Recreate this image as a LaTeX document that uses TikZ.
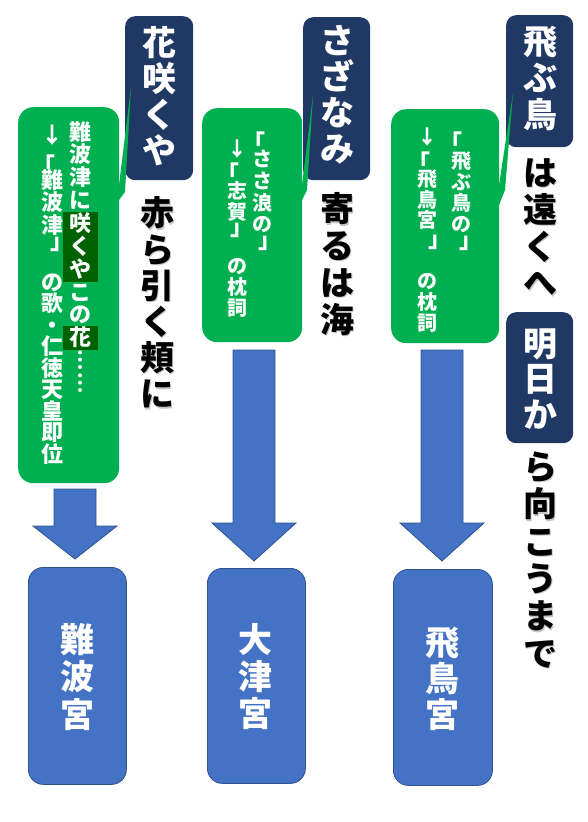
\documentclass[tikz,border=0pt]{standalone}
\usepackage{fontspec}
\newfontfamily\jpfont{Noto Sans CJK JP}
\definecolor{navy}{HTML}{203864}
\definecolor{callgreen}{HTML}{00B050}
\definecolor{markgreen}{HTML}{006100}
\definecolor{palblue}{HTML}{4472C4}
\definecolor{paledge}{HTML}{2F528F}
\newcommand{\tate}[6][]{%
  \foreach \ch [count=\k] in {#6}
    \node[tatechar,#1] (#2-\k) at (#3,{#4+(\k-1)*#5}) {\ch};}
\newcommand{\blockdown}[3]{%
  \draw[blockarrow] (#1) +(-21,0) -- +(21,0) -- +(21,#2) -- +(42,#2)
    -- +(0,#3) -- +(-42,#2) -- +(-21,#2) -- cycle;}
\tikzset{navybox/.style={fill=navy, rounded corners=10pt, anchor=north west, inner sep=0pt},
  callbox/.style={fill=callgreen, rounded corners=15pt, anchor=north west, inner sep=0pt},
  palacebox/.style={fill=palblue, draw=paledge, line width=0.8pt, rounded corners=15pt, anchor=north west, inner sep=0pt},
  blockarrow/.style={fill=palblue, draw=paledge, line width=0.8pt},
  tatechar/.style={anchor=base, inner sep=0pt},
  bigw/.style={text=white, font=\jpfont\bfseries\fontsize{34}{34}\selectfont},
  bigk/.style={text=black, font=\jpfont\bfseries\fontsize{34}{34}\selectfont},
  bigs/.style={text=gray!45, font=\jpfont\bfseries\fontsize{34}{34}\selectfont},
  notew/.style={text=white, font=\jpfont\bfseries\fontsize{20}{20}\selectfont},
  notewl/.style={text=white, font=\jpfont\bfseries\fontsize{22}{22}\selectfont},
  bracket/.style={anchor=center, inner sep=0pt, text=white, font=\jpfont\bfseries\fontsize{23}{23}\selectfont},
  openbr/.style={bracket, xshift=-5.5pt},
  closebr/.style={bracket, xshift=5.5pt}}

\begin{document}
\begin{tikzpicture}[x=1pt, y=-1pt]
  \useasboundingbox (0,0) rectangle (588,822);
  \node[callbox, minimum width=101pt, minimum height=376pt] (naniwanote) at (18,107) {};
  \node[callbox, minimum width=100pt, minimum height=234pt] (sazanote) at (202,108) {};
  \node[callbox, minimum width=108pt, minimum height=234pt] (tobunote) at (391,109) {};
  \node[navybox, minimum width=68pt, minimum height=164pt] (hana) at (125,16) {};
  \node[navybox, minimum width=67pt, minimum height=163pt] (saza) at (303,17) {};
  \node[navybox, minimum width=67pt, minimum height=132pt] (tobu) at (506,15) {};
  \node[navybox, minimum width=67pt, minimum height=131pt] (asu) at (506,312) {};
  \fill[callgreen] (131,87) -- (125,192) -- (119,200) -- (119,185) -- cycle;
  \fill[callgreen] (313,95) -- (307,190) -- (302,200) -- (302,185) -- cycle;
  \fill[callgreen] (513,93) -- (505,190) -- (499,205) -- (499,185) -- cycle;
  \fill[markgreen] (63,212) rectangle (98,282);
  \fill[markgreen] (63,326) rectangle (98,350);

  \tate[notewl]{n1r}{80}{140.1}{22.85}{難,波,津,に,咲,く,や,こ,の,花,︙,︙}
  \tate[notewl]{n1a}{52}{143.4}{22.5}{↓}
  \tate[notewl]{n1c}{52}{188.4}{22.5}{難,波,津}
  \tate[notewl]{n1b}{52}{290.1}{21.5}{の,歌,・,仁,徳,天,皇,即,位}
  \node[openbr] (n1open) at (49,165) {「};
  \node[closebr] (n1close) at (56,244) {」};

  \tate[notew]{n2r}{262}{166.8}{21.6}{さ,さ,浪,の}
  \node[openbr] (n2ropen) at (259,142) {「};
  \node[closebr] (n2rclose) at (264,243) {」};
  \tate[notew]{n2a}{237}{156.6}{21}{↓}
  \tate[notew]{n2c}{237}{198.6}{21}{志,賀}
  \node[openbr] (n2open) at (233,173) {「};
  \node[closebr] (n2close) at (236,230) {」};
  \tate[notew]{n2b}{237}{273.4}{20.9}{の,枕,詞}

  \tate[notew]{n3r}{461}{168.6}{21}{飛,ぶ,鳥,の}
  \node[openbr] (n3ropen) at (456,142) {「};
  \node[closebr] (n3rclose) at (465,243) {」};
  \tate[notew]{n3a}{427}{144.6}{20.8}{↓}
  \tate[notew]{n3c}{427}{186.2}{20.8}{飛,鳥,宮}
  \node[openbr] (n3open) at (424,162) {「};
  \node[closebr] (n3close) at (434,242) {」};
  \tate[notew]{n3b}{427}{288.6}{21}{の,枕,詞}

  \tate[bigw]{hanatxt}{159}{55.4}{36.1}{花,咲,く,や}
  \tate[bigw]{sazatxt}{337}{53.9}{36}{さ,ざ,な,み}
  \tate[bigw]{tobutxt}{540}{54.6}{36.2}{飛,ぶ,鳥}
  \tate[bigw]{asutxt}{540}{356.2}{35.4}{明,日,か}

  \tate[bigs]{s1}{158.2}{227.1}{36.2}{赤,ら,引,く,頬,に}
  \tate[bigk]{k1}{157}{225.9}{36.2}{赤,ら,引,く,頬,に}
  \tate[bigs]{s2}{338.2}{223.1}{36.7}{寄,る,は,海}
  \tate[bigk]{k2}{337}{221.9}{36.7}{寄,る,は,海}
  \tate[bigs]{s3}{541.2}{186.6}{36.8}{は,遠,く,へ}
  \tate[bigk]{k3}{540}{185.4}{36.8}{は,遠,く,へ}
  \tate[bigs]{s4}{541.2}{480.8}{37.3}{ら,向,こ,う,ま,で}
  \tate[bigk]{k4}{540}{479.6}{37.3}{ら,向,こ,う,ま,で}

  \coordinate (a1) at (75,489);
  \coordinate (a2) at (254,350);
  \coordinate (a3) at (442,350);
  \blockdown{a1}{37}{70}
  \blockdown{a2}{173}{211}
  \blockdown{a3}{173}{211}

  \node[palacebox, minimum width=98pt, minimum height=217pt] (naniwa) at (28,567) {};
  \node[palacebox, minimum width=98pt, minimum height=215pt] (otsu) at (207,568) {};
  \node[palacebox, minimum width=99pt, minimum height=216pt] (asuka) at (393,569) {};
  \tate[bigw]{naniwatxt}{77}{652.4}{37.5}{難,波,宮}
  \tate[bigw]{otsutxt}{255}{652.9}{37}{大,津,宮}
  \tate[bigw]{asukatxt}{442}{655.9}{36}{飛,鳥,宮}
\end{tikzpicture}
\end{document}
